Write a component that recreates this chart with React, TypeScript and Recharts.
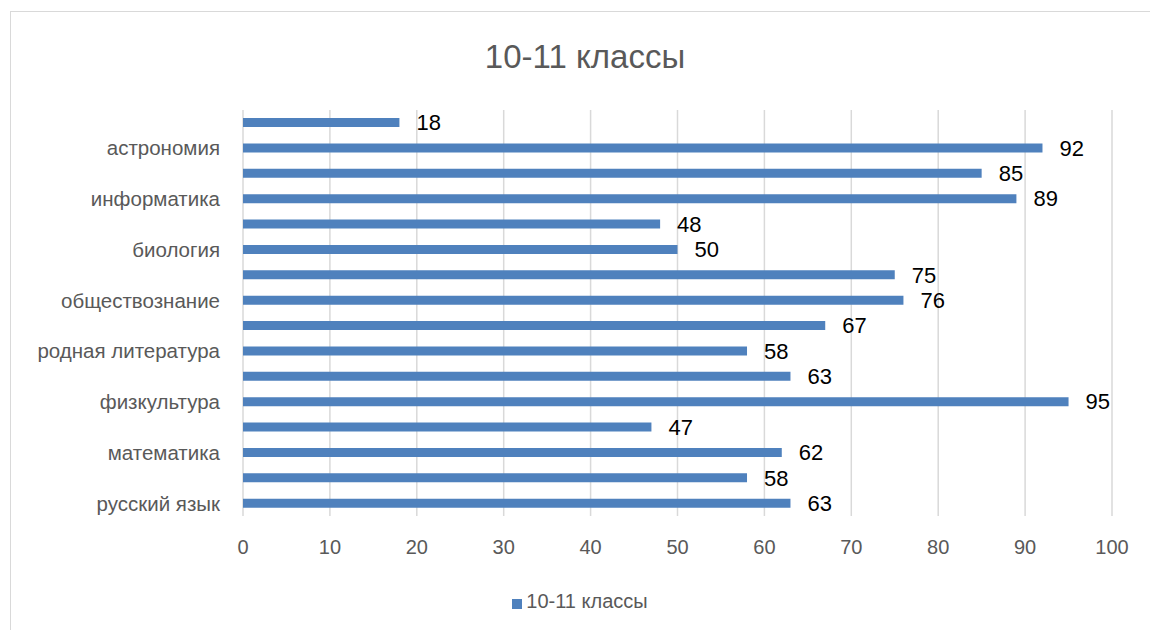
import React from "react";
import { BarChart, Bar, XAxis, YAxis, CartesianGrid, Legend, LabelList } from "recharts";

// Bottom-to-top order (as in the source spreadsheet)
const subjects = [
  "русский язык",
  "литература",
  "математика",
  "иностранный язык",
  "физкультура",
  "родной язык",
  "родная литература",
  "история",
  "обществознание",
  "география",
  "биология",
  "химия",
  "информатика",
  "физика",
  "астрономия",
  "ОБЖ",
];
const scores = [63, 58, 62, 47, 95, 63, 58, 67, 76, 75, 50, 48, 89, 85, 92, 18];
const xTicks = [0, 10, 20, 30, 40, 50, 60, 70, 80, 90, 100];
const seriesName = "10-11 классы";
const title = "10-11 классы";

const data = subjects.map((s, i) => ({ subject: s, value: scores[i] }));

const FONT = "'Liberation Sans', Arial, sans-serif";
const GRAY = "#595959";
const BLUE = "#4f81bd";

export default function App() {
  return (
    <div style={{ position: "absolute", left: 0, top: 0, width: 1150, height: 630, background: "#fff", overflow: "hidden", fontFamily: FONT }}>
      <div style={{ position: "absolute", left: 10, top: 11, width: 1160, height: 640, border: "1px solid #d9d9d9", boxSizing: "border-box" }} />
      <div style={{ position: "absolute", left: 0, top: 38, width: 1170, textAlign: "center", fontSize: 33, color: GRAY, fontFamily: FONT }}>
        {title}
      </div>
      <div style={{ position: "absolute", left: 0, top: 0 }}>
        <BarChart
          width={1150}
          height={630}
          data={data}
          layout="vertical"
          margin={{ top: 110, right: 38, bottom: 17, left: 0 }}
          barCategoryGap={0}
        >
          <CartesianGrid horizontal={false} stroke="#d9d9d9" strokeWidth={1.5} />
          <XAxis
            type="number"
            domain={[0, 100]}
            ticks={xTicks}
            axisLine={false}
            tickLine={false}
            tickSize={0}
            tickMargin={24}
            height={74}
            tick={{ fill: GRAY, fontSize: 20, fontFamily: FONT }}
          />
          <YAxis
            type="category"
            dataKey="subject"
            reversed
            interval={1}
            width={243}
            axisLine={false}
            tickLine={false}
            tickSize={0}
            tickMargin={23}
            tick={{ fill: GRAY, fontSize: 20.5, fontFamily: FONT }}
          />
          <Legend
            verticalAlign="bottom"
            iconType="square"
            iconSize={10}
            wrapperStyle={{ left: 500, width: 170, fontFamily: FONT }}
            formatter={(v) => <span style={{ color: GRAY, fontSize: 20 }}>{v}</span>}
          />
          <Bar dataKey="value" name={seriesName} fill={BLUE} barSize={9} isAnimationActive={false}>
            <LabelList dataKey="value" position="right" offset={17} fill="#000" fontSize={22} fontFamily={FONT} />
          </Bar>
        </BarChart>
      </div>
    </div>
  );
}
